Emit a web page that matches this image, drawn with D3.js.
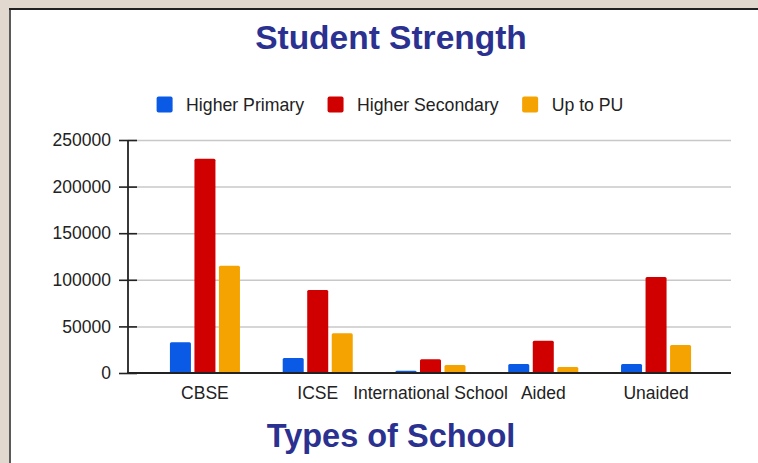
<!DOCTYPE html>
<html>
<head>
<meta charset="utf-8">
<script src="https://cdn.jsdelivr.net/npm/d3@7"></script>
<style>
  html, body { margin: 0; padding: 0; background: #e1d9cf; }
  svg { display: block; font-family: "Liberation Sans", Arial, sans-serif; }
</style>
</head>
<body>
<svg width="758" height="463"></svg>
<script>
// data
const schools = ["CBSE", "ICSE", "International School", "Aided", "Unaided"];
const series = ["Higher Primary", "Higher Secondary", "Up to PU"];
const higherPrimary   = [33000, 16000, 2500, 9700, 9700];
const higherSecondary = [230000, 89000, 14700, 34700, 103000];
const upToPU          = [115000, 42600, 8600, 6400, 30000];
const yTicks = [0, 50000, 100000, 150000, 200000, 250000];
const colors = ["#0a5ae6", "#d00000", "#f5a300"];

const seriesValues = [higherPrimary, higherSecondary, upToPU];
const rows = schools.map((s, i) => ({
    school: s,
    values: series.map((k, j) => ({key: k, value: seriesValues[j][i]}))
}));

const svg = d3.select("svg");

// frame
svg.append("rect").attr("x", 9).attr("y", 8).attr("width", 760).attr("height", 470)
    .attr("fill", "#fff");
svg.append("line").attr("x1", 10).attr("x2", 10).attr("y1", 8).attr("y2", 463)
    .attr("stroke", "#5a5a5a").attr("stroke-width", 2);
svg.append("line").attr("x1", 9).attr("x2", 758).attr("y1", 9).attr("y2", 9)
    .attr("stroke", "#222").attr("stroke-width", 2);

const plotLeft = 128, plotRight = 731, plotTop = 140, plotBottom = 373;
const labelSize = "17.5px";

const x0 = d3.scaleBand().domain(schools).range([148.5, 712.5])
    .paddingInner(0.379).paddingOuter(0.19);
const x1 = d3.scaleBand().domain(series).range([0, x0.bandwidth()]).paddingInner(0.143);
const y = d3.scaleLinear().domain([0, 250000]).range([plotBottom, plotTop]);
const color = d3.scaleOrdinal().domain(series).range(colors);

// gridlines
const grid = svg.append("g").attr("transform", `translate(${plotLeft},0)`)
    .call(d3.axisRight(y).tickValues(yTicks.slice(1)).tickSize(plotRight - plotLeft).tickFormat(""));
grid.select(".domain").remove();
grid.selectAll("line").attr("stroke", "#c8c8c8").attr("stroke-width", 1.5);

// y axis
const yAxis = svg.append("g").attr("transform", `translate(${plotLeft + 9},0)`)
    .call(d3.axisLeft(y).tickValues(yTicks).tickSize(18).tickPadding(8).tickFormat(d3.format("d")));
yAxis.select(".domain").remove();
yAxis.selectAll("line").attr("stroke", "#222").attr("stroke-width", 1.6);
yAxis.selectAll("text").attr("font-size", labelSize).attr("fill", "#222")
    .attr("font-family", "Liberation Sans, Arial, sans-serif");
svg.append("line").attr("x1", plotLeft).attr("x2", plotLeft).attr("y1", plotTop).attr("y2", plotBottom)
    .attr("stroke", "#222").attr("stroke-width", 1.8);

// bars
const groups = svg.append("g").selectAll("g")
    .data(rows).join("g")
    .attr("transform", d => `translate(${x0(d.school)},0)`);
groups.selectAll("rect")
    .data(d => d.values).join("rect")
    .attr("x", d => x1(d.key))
    .attr("y", d => y(d.value))
    .attr("width", x1.bandwidth())
    .attr("height", d => plotBottom - y(d.value))
    .attr("rx", 1.5)
    .attr("fill", d => color(d.key));

// x axis
const xAxis = svg.append("g").attr("transform", `translate(0,${plotBottom})`)
    .call(d3.axisBottom(x0).tickSize(0).tickPadding(13.5));
xAxis.select(".domain").remove();
xAxis.selectAll("text").attr("font-size", labelSize).attr("fill", "#222")
    .attr("font-family", "Liberation Sans, Arial, sans-serif");
svg.append("line").attr("x1", plotLeft - 1).attr("x2", plotRight).attr("y1", plotBottom).attr("y2", plotBottom)
    .attr("stroke", "#222").attr("stroke-width", 1.8);

// titles
svg.append("text").attr("x", 391).attr("y", 49).attr("text-anchor", "middle")
    .attr("font-size", "33.5px").attr("font-weight", "bold").attr("fill", "#2b3190")
    .text("Student Strength");
svg.append("text").attr("x", 391).attr("y", 447).attr("text-anchor", "middle")
    .attr("font-size", "32.5px").attr("font-weight", "bold").attr("fill", "#2b3190")
    .text("Types of School");

// legend
const legend = svg.append("g");
let lx = 0;
series.forEach((s, i) => {
    const item = legend.append("g").attr("transform", `translate(${lx},0)`);
    item.append("rect").attr("x", 0).attr("y", 96.5).attr("width", 16).attr("height", 16)
        .attr("rx", 2).attr("fill", colors[i]);
    const t = item.append("text").attr("x", 29.5).attr("y", 111)
        .attr("font-size", "17.7px").attr("fill", "#222").text(s);
    lx += 29.5 + t.node().getComputedTextLength() + 23.5;
});
const legendWidth = lx - 23.5;
legend.attr("transform", `translate(${390 - legendWidth / 2},0)`);
</script>
</body>
</html>
